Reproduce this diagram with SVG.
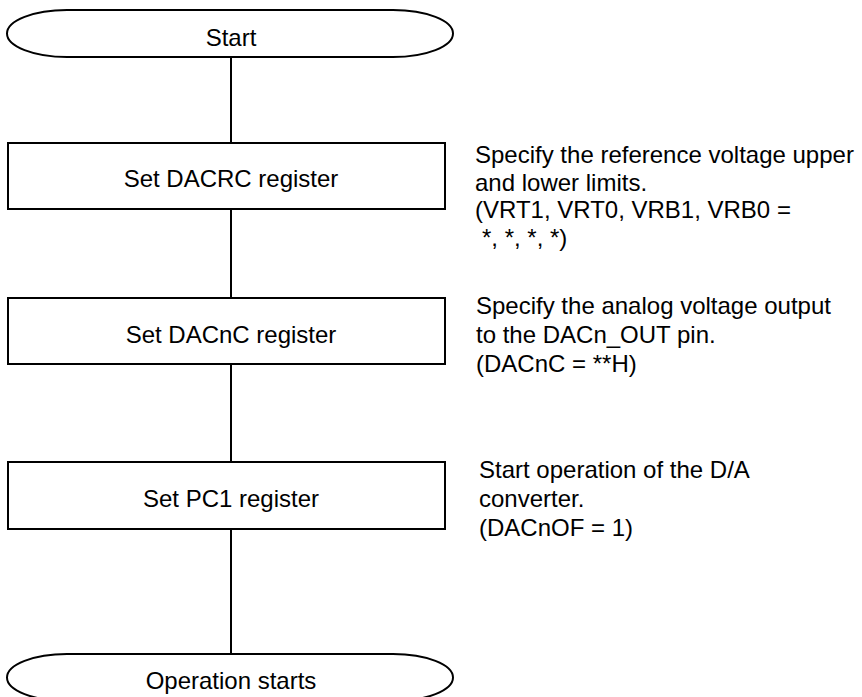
<svg xmlns="http://www.w3.org/2000/svg" width="862" height="697" viewBox="0 0 862 697">
<style>
.shape{fill:#fff;stroke:#000;stroke-width:2}
.conn{stroke:#000;stroke-width:2;fill:none}
.t{font-family:"Liberation Sans",Arial,sans-serif;font-size:24px;fill:#000}
.c{text-anchor:middle}
</style>
<rect width="862" height="697" fill="#fff"/>
<g id="connectors">
<line class="conn" x1="231" y1="57" x2="231" y2="143"/>
<line class="conn" x1="231" y1="209" x2="231" y2="298"/>
<line class="conn" x1="231" y1="364" x2="231" y2="462"/>
<line class="conn" x1="231" y1="529" x2="231" y2="654"/>
</g>
<g id="start">
<path class="shape" d="M67,10 H393 A60 23.5 0 0 1 393,57 H67 A60 23.5 0 0 1 67,10 Z"/>
<text class="t c" x="231" y="46">Start</text>
</g>
<g id="set-dacrc">
<rect class="shape" x="8" y="143" width="437" height="66"/>
<text class="t c" x="231" y="187">Set DACRC register</text>
</g>
<g id="note-dacrc">
<text class="t" x="475" y="163">Specify the reference voltage upper</text>
<text class="t" x="475" y="190.5">and lower limits.</text>
<text class="t" x="475" y="218">(VRT1, VRT0, VRB1, VRB0 =</text>
<text class="t" x="482" y="245.5">*, *, *, *)</text>
</g>
<g id="set-dacnc">
<rect class="shape" x="8" y="298" width="437" height="66"/>
<text class="t c" x="231" y="343">Set DACnC register</text>
</g>
<g id="note-dacnc">
<text class="t" x="476" y="314">Specify the analog voltage output</text>
<text class="t" x="476" y="343">to the DACn_OUT pin.</text>
<text class="t" x="476" y="372">(DACnC = **H)</text>
</g>
<g id="set-pc1">
<rect class="shape" x="8" y="462" width="437" height="67"/>
<text class="t c" x="231" y="507">Set PC1 register</text>
</g>
<g id="note-pc1">
<text class="t" x="479" y="478">Start operation of the D/A</text>
<text class="t" x="479" y="507">converter.</text>
<text class="t" x="479" y="536">(DACnOF = 1)</text>
</g>
<g id="end">
<path class="shape" d="M67,654 H393 A60 23.5 0 0 1 393,701 H67 A60 23.5 0 0 1 67,654 Z"/>
<text class="t c" x="231" y="689">Operation starts</text>
</g>
</svg>
